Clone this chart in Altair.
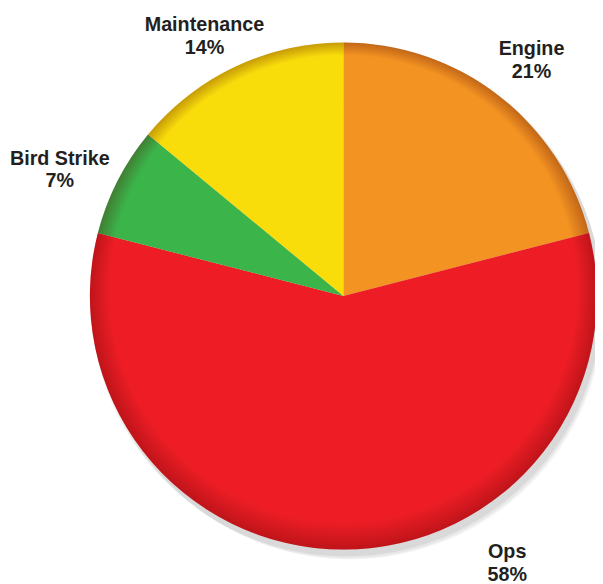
import altair as alt
import pandas as pd

# Data
categories = ["Engine", "Ops", "Bird Strike", "Maintenance"]
percent = [21, 58, 7, 14]
slice_order = [1, 2, 3, 4]

colors = ["#F39322", "#EE1D25", "#3BB44A", "#F9DD0B"]

df = pd.DataFrame({"category": categories, "value": percent, "order": slice_order})

CX, CY, R = 340, 288, 257
FONT = "Liberation Sans"

base = alt.Chart(df)

theta = alt.Theta("value:Q", stack=True)
order = alt.Order("order:Q", sort="ascending")
color = alt.Color("category:N", scale=alt.Scale(domain=categories, range=colors), legend=None)

# soft drop shadow (stacked translucent discs)
shadows = []
for dx, dy, extra, op in [(3, 5, 2, 0.10), (5, 8, 1, 0.08), (7, 10, 0, 0.06)]:
    shadows.append(
        base.transform_aggregate(total="sum(value)")
        .mark_arc(radius=R + extra, color="#555555", opacity=op)
        .encode(theta=alt.Theta("total:Q"), x=alt.value(CX + dx), y=alt.value(CY + dy))
    )

pie = base.mark_arc(radius=R).encode(
    theta=theta, order=order, color=color,
    x=alt.value(CX), y=alt.value(CY),
)

rim = base.transform_aggregate(total="sum(value)").mark_arc(
    radius=R,
    fill=alt.Gradient(
        gradient="radial",
        stops=[
            alt.GradientStop(color="rgba(80,0,0,0)", offset=0),
            alt.GradientStop(color="rgba(80,0,0,0)", offset=0.92),
            alt.GradientStop(color="rgba(80,0,0,0.30)", offset=1),
        ],
        x1=0.5, y1=0.32, r1=0, x2=0.5, y2=0.5, r2=0.5,
    ),
).encode(theta=alt.Theta("total:Q"), x=alt.value(CX), y=alt.value(CY))

# label angles: middle of each slice (computed from the data)
label_base = base.transform_window(
    cum="sum(value)", sort=[alt.SortField("order", order="ascending")],
    frame=[None, 0],
).transform_joinaggregate(
    total="sum(value)"
).transform_calculate(
    frac="(datum.cum - datum.value / 2) / datum.total",
    label="datum.category + '\\n' + datum.value + '%'",
)


def label_layer(name, dx, dy):
    return label_base.transform_filter(alt.datum.category == name).mark_text(
        radius=298, font=FONT, fontSize=20, fontWeight="bold", color="#231F20",
        lineBreak="\n", lineHeight=23, align="center", baseline="middle", dx=dx, dy=dy,
    ).encode(
        theta=alt.Theta("frac:Q", scale=alt.Scale(domain=[0, 1], range=[0, 6.283185307179586])),
        text="label:N",
        x=alt.value(CX), y=alt.value(CY),
    )


labels = [
    label_layer("Engine", 8, -15),
    label_layer("Ops", 166, -38),
    label_layer("Bird Strike", -22, -4),
    label_layer("Maintenance", -14, -5),
]

chart = alt.layer(*shadows, pie, rim, *labels).resolve_scale(theta="independent").properties(
    width=595, height=576, autosize="none", padding=0
).configure_view(stroke=None)

chart.save("out.html", embed_options={"renderer": "svg", "actions": False})
